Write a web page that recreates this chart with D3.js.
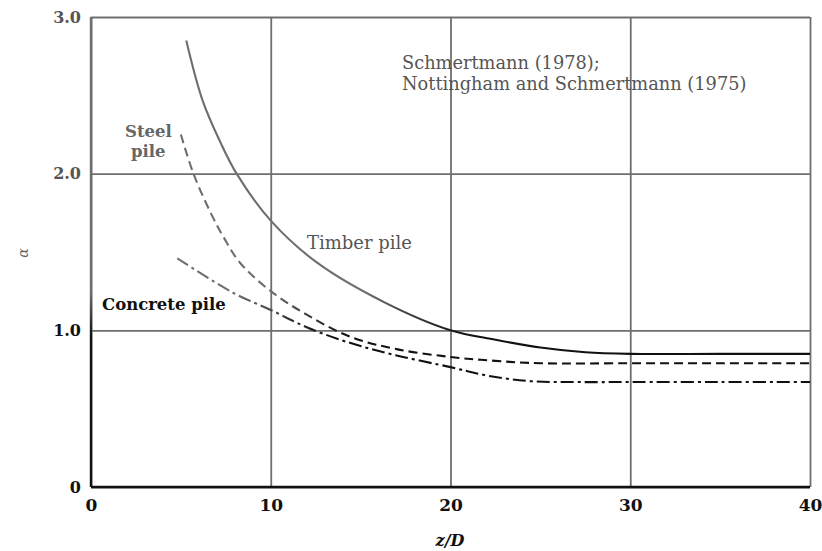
<!DOCTYPE html>
<html>
<head>
<meta charset="utf-8">
<script src="https://cdn.jsdelivr.net/npm/d3@7/dist/d3.min.js"></script>
<style>
  body { margin: 0; background: #fff; }
  svg { display: block; }
</style>
</head>
<body>
<svg id="chart" width="822" height="551"></svg>
<script>
// ---- data ----
const xTicks = [0, 10, 20, 30, 40];
const yTicks = [0, 1, 2, 3];
const yTickLabels = ["0", "1.0", "2.0", "3.0"];

const timberZ = [5.3, 6.2, 7.2, 8.1, 10, 12.6, 16.3, 20, 22.5, 25, 27.5, 30, 35, 40];
const timberA = [2.85, 2.47, 2.2, 2.0, 1.70, 1.43, 1.18, 1.0, 0.94, 0.89, 0.86, 0.85, 0.85, 0.85];

const steelZ = [5.0, 5.7, 6.7, 7.4, 8.3, 10, 12, 14.4, 17, 20, 22.5, 25, 30, 35, 40];
const steelA = [2.25, 2.0, 1.74, 1.59, 1.43, 1.25, 1.10, 0.96, 0.88, 0.83, 0.805, 0.79, 0.79, 0.79, 0.79];

const concreteZ = [4.8, 7.9, 10, 12, 14.4, 17, 20, 22.1, 24.5, 27, 30, 35, 40];
const concreteA = [1.46, 1.24, 1.13, 1.02, 0.92, 0.84, 0.765, 0.71, 0.675, 0.67, 0.67, 0.67, 0.67];

// ---- layout ----
const W = 822, H = 551;
const margin = { left: 91, top: 17, right: 12, bottom: 64 };
const iw = W - margin.left - margin.right;
const ih = H - margin.top - margin.bottom;

const svg = d3.select("#chart");
const defs = svg.append("defs");
const grad = defs.append("linearGradient")
  .attr("id", "ink").attr("gradientUnits", "userSpaceOnUse")
  .attr("x1", 0).attr("y1", 0).attr("x2", 0).attr("y2", H);
grad.append("stop").attr("offset", 0).attr("stop-color", "#6e6e6e");
grad.append("stop").attr("offset", 0.5).attr("stop-color", "#6e6e6e");
grad.append("stop").attr("offset", 0.58).attr("stop-color", "#111");
grad.append("stop").attr("offset", 1).attr("stop-color", "#111");

const g = svg.append("g").attr("transform", `translate(${margin.left},${margin.top})`);

const x = d3.scaleLinear().domain([0, 40]).range([0, iw]);
const y = d3.scaleLinear().domain([0, 3]).range([ih, 0]);

const serif = "'DejaVu Serif', 'Liberation Serif', serif";

// grid + axes
const yAxis = d3.axisLeft(y).tickValues(yTicks)
  .tickFormat((d, i) => yTickLabels[i]).tickSize(-iw).tickPadding(10);
const yg = g.append("g").call(yAxis);
yg.select(".domain").remove();
yg.selectAll(".tick line").attr("stroke", "url(#ink)").attr("stroke-width", 1.8)
  .attr("x1", 0);
yg.selectAll(".tick text").attr("font-family", serif).attr("font-size", 16)
  .attr("font-weight", "bold").attr("fill", (d) => d >= 2 ? "#555" : "#111");

const xAxis = d3.axisBottom(x).tickValues(xTicks).tickSize(-ih).tickPadding(12);
const xg = g.append("g").attr("transform", `translate(0,${ih})`).call(xAxis);
xg.select(".domain").remove();
xg.selectAll(".tick line").attr("stroke", "url(#ink)").attr("stroke-width", 1.8);
xg.selectAll(".tick text").attr("font-family", serif).attr("font-size", 17)
  .attr("font-weight", "bold").attr("fill", "#111");

// spines
g.append("line").attr("x1", x(0)).attr("x2", x(0)).attr("y1", y(0)).attr("y2", y(3))
  .attr("stroke", "url(#ink)").attr("stroke-width", 2.4);
g.append("line").attr("x1", x(0)).attr("x2", x(40)).attr("y1", y(0)).attr("y2", y(0))
  .attr("stroke", "#111").attr("stroke-width", 2.6);

// curves
const line = d3.line().x(d => x(d[0])).y(d => y(d[1])).curve(d3.curveCatmullRom.alpha(0.5));
const series = [
  { z: timberZ, a: timberA, dash: null },
  { z: steelZ, a: steelA, dash: "9,5" },
  { z: concreteZ, a: concreteA, dash: "13,4,3,4" }
];
series.forEach(s => {
  g.append("path")
    .datum(s.z.map((z, i) => [z, s.a[i]]))
    .attr("d", line)
    .attr("fill", "none")
    .attr("stroke", "url(#ink)")
    .attr("stroke-width", 2.1)
    .attr("stroke-dasharray", s.dash);
});

// annotations (absolute page coords)
const ann = svg.append("g").attr("font-family", serif);
ann.append("text").attr("x", 402).attr("y", 69).attr("font-size", 17.8).attr("fill", "#555")
  .text("Schmertmann (1978);");
ann.append("text").attr("x", 402).attr("y", 90).attr("font-size", 17.8).attr("fill", "#555")
  .text("Nottingham and Schmertmann (1975)");
ann.append("text").attr("x", 125).attr("y", 137).attr("font-size", 16.5).attr("font-weight", "bold").attr("fill", "#666")
  .text("Steel");
ann.append("text").attr("x", 131).attr("y", 157).attr("font-size", 16.5).attr("font-weight", "bold").attr("fill", "#666")
  .text("pile");
ann.append("text").attr("x", 307).attr("y", 249).attr("font-size", 18).attr("fill", "#555")
  .text("Timber pile");
ann.append("text").attr("x", 102).attr("y", 310).attr("font-size", 16.5).attr("font-weight", "bold").attr("fill", "#111")
  .text("Concrete pile");

// axis titles
svg.append("text").attr("x", 450).attr("y", 546).attr("text-anchor", "middle")
  .attr("font-family", serif).attr("font-size", 16).attr("font-style", "italic").attr("font-weight", "bold")
  .attr("fill", "#111").text("z/D");
svg.append("text").attr("transform", "translate(28,253) rotate(-90)").attr("text-anchor", "middle")
  .attr("font-family", serif).attr("font-size", 14).attr("font-style", "italic")
  .attr("fill", "#666").text("α");
</script>
</body>
</html>
